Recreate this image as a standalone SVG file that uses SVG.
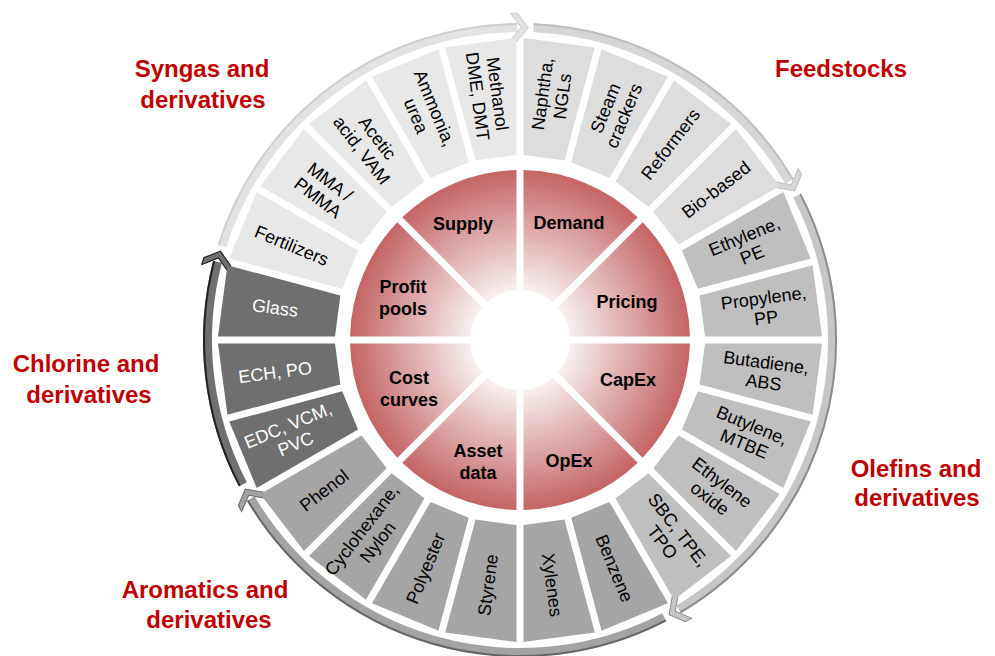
<svg xmlns="http://www.w3.org/2000/svg" xmlns:xlink="http://www.w3.org/1999/xlink" width="995" height="656" viewBox="0 0 995 656">
<defs>
<radialGradient id="rg" gradientUnits="userSpaceOnUse" cx="520" cy="340" r="170">
<stop offset="0" stop-color="#ffffff"/>
<stop offset="0.3" stop-color="#f7efef"/>
<stop offset="1" stop-color="#c46464"/>
</radialGradient>
<path id="seg" d="M484.05,40.13 L555.95,40.13 L540.68,156.12 L499.32,156.12 Z"/>
<path id="wedge" d="M458.19,181.64 A170,170 0 0 1 581.81,181.64 L535.85,292.58 A50,50 0 0 0 504.15,292.58 Z"/>
<polygon id="chev" points="-18,-14 -11,-14 0,0 -11,14 -18,14 -7,0"/>
</defs>
<style>
text{font-family:"Liberation Sans",Arial,sans-serif;}
.t{font-size:18px;fill:#000;text-anchor:middle;}
.tw{font-size:18px;fill:#fff;text-anchor:middle;}
.in{font-size:18px;font-weight:bold;fill:#000;text-anchor:middle;}
.cat{font-size:24px;font-weight:bold;fill:#c00000;text-anchor:middle;}
.feed{fill:#dddddd;}
.ole{fill:#bfbfbf;}
.aro{fill:#a5a5a5;}
.chl{fill:#6f6f6f;}
.syn{fill:#e8e8e8;}
.wd{fill:url(#rg);}
.band{fill:none;}
</style>
<rect width="995" height="656" fill="#ffffff"/>

<g id="connectors">
<g id="arrow-feedstocks">
<path class="band" d="M533.63,27.80 A312.5,312.5 0 0 1 789.26,181.39" stroke="#d6d6d6" stroke-width="9"/>
<path class="band" d="M533.63,24.3 A316,316 0 0 1 793,179.6" stroke="#bdbdbd" stroke-width="2"/>
<use href="#chev" transform="translate(794.63 190.89) rotate(61.5)" fill="#d6d6d6" stroke="#bdbdbd" stroke-width="1"/>
</g>
<g id="arrow-olefins">
<path class="band" d="M797.19,195.70 A312.5,312.5 0 0 1 678.61,609.26" stroke="#c6c6c6" stroke-width="9"/>
<path class="band" d="M800.3,194.1 A316,316 0 0 1 680.4,612.3" stroke="#8c8c8c" stroke-width="2"/>
<use href="#chev" transform="translate(669.11 614.63) rotate(151.5)" fill="#c6c6c6" stroke="#8c8c8c" stroke-width="1"/>
</g>
<g id="arrow-aromatics">
<path class="band" d="M664.30,617.19 A312.5,312.5 0 0 1 250.74,498.61" stroke="#a3a3a3" stroke-width="9"/>
<path class="band" d="M665.9,620.3 A316,316 0 0 1 247.8,500.4" stroke="#666666" stroke-width="2"/>
<use href="#chev" transform="translate(245.37 489.11) rotate(241.5)" fill="#a3a3a3" stroke="#666666" stroke-width="1"/>
</g>
<g id="arrow-chlorine">
<path class="band" d="M242.81,484.30 A312.5,312.5 0 0 1 217.45,261.76" stroke="#6f6f6f" stroke-width="9"/>
<path class="band" d="M239.7,485.9 A316,316 0 0 1 214.1,260.9" stroke="#222222" stroke-width="2"/>
<use href="#chev" transform="translate(220.37 251.24) rotate(286.5)" fill="#6f6f6f" stroke="#222222" stroke-width="1.2"/>
</g>
<g id="arrow-syngas">
<path class="band" d="M221.96,246.03 A312.5,312.5 0 0 1 517.27,27.51" stroke="#e3e3e3" stroke-width="9"/>
<path class="band" d="M218.6,245 A316,316 0 0 1 517.2,24" stroke="#d0d0d0" stroke-width="2"/>
<use href="#chev" transform="translate(528.18 27.61) rotate(1.5)" fill="#e3e3e3" stroke="#d0d0d0" stroke-width="1"/>
</g>
</g>

<g id="inner-ring">
<g id="n-supply"><use href="#wedge" class="wd" transform="rotate(337.5 520 340)"/><text class="in" x="463" y="230">Supply</text></g>
<g id="n-demand"><use href="#wedge" class="wd" transform="rotate(22.5 520 340)"/><text class="in" x="569" y="229">Demand</text></g>
<g id="n-pricing"><use href="#wedge" class="wd" transform="rotate(67.5 520 340)"/><text class="in" x="627" y="308">Pricing</text></g>
<g id="n-capex"><use href="#wedge" class="wd" transform="rotate(112.5 520 340)"/><text class="in" x="628" y="386">CapEx</text></g>
<g id="n-opex"><use href="#wedge" class="wd" transform="rotate(157.5 520 340)"/><text class="in" x="569" y="467">OpEx</text></g>
<g id="n-asset-data"><use href="#wedge" class="wd" transform="rotate(202.5 520 340)"/><text class="in" x="478" y="457"><tspan x="478">Asset</tspan><tspan x="478" dy="22">data</tspan></text></g>
<g id="n-cost-curves"><use href="#wedge" class="wd" transform="rotate(247.5 520 340)"/><text class="in" x="409" y="384"><tspan x="409">Cost</tspan><tspan x="409" dy="22">curves</tspan></text></g>
<g id="n-profit-pools"><use href="#wedge" class="wd" transform="rotate(292.5 520 340)"/><text class="in" x="403" y="293"><tspan x="403">Profit</tspan><tspan x="403" dy="22">pools</tspan></text></g>
</g>

<g id="outer-ring">
<g id="n-naphtha"><use href="#seg" class="feed" transform="rotate(7.5 520 340)"/><text class="t" x="552.24" y="95.11" transform="rotate(-82.5 552.24 95.11)"><tspan x="552.24" dy="-3.7">Naphtha,</tspan><tspan x="552.24" dy="20">NGLs</tspan></text></g>
<g id="n-steam-crackers"><use href="#seg" class="feed" transform="rotate(22.5 520 340)"/><text class="t" x="614.52" y="111.8" transform="rotate(-67.5 614.52 111.8)"><tspan x="614.52" dy="-3.7">Steam</tspan><tspan x="614.52" dy="20">crackers</tspan></text></g>
<g id="n-reformers"><use href="#seg" class="feed" transform="rotate(37.5 520 340)"/><text class="t" x="670.36" y="144.04" transform="rotate(-52.5 670.36 144.04)"><tspan x="670.36" dy="6.3">Reformers</tspan></text></g>
<g id="n-bio-based"><use href="#seg" class="feed" transform="rotate(52.5 520 340)"/><text class="t" x="715.96" y="189.64" transform="rotate(-37.5 715.96 189.64)"><tspan x="715.96" dy="6.3">Bio-based</tspan></text></g>

<g id="n-ethylene-pe"><use href="#seg" class="ole" transform="rotate(67.5 520 340)"/><text class="t" x="748.2" y="245.48" transform="rotate(-22.5 748.2 245.48)"><tspan x="748.2" dy="-3.7">Ethylene,</tspan><tspan x="748.2" dy="20">PE</tspan></text></g>
<g id="n-propylene-pp"><use href="#seg" class="ole" transform="rotate(82.5 520 340)"/><text class="t" x="764.89" y="307.76" transform="rotate(-7.5 764.89 307.76)"><tspan x="764.89" dy="-3.7">Propylene,</tspan><tspan x="764.89" dy="20">PP</tspan></text></g>
<g id="n-butadiene-abs"><use href="#seg" class="ole" transform="rotate(97.5 520 340)"/><text class="t" x="764.89" y="372.24" transform="rotate(7.5 764.89 372.24)"><tspan x="764.89" dy="-3.7">Butadiene,</tspan><tspan x="764.89" dy="20">ABS</tspan></text></g>
<g id="n-butylene-mtbe"><use href="#seg" class="ole" transform="rotate(112.5 520 340)"/><text class="t" x="748.2" y="434.52" transform="rotate(22.5 748.2 434.52)"><tspan x="748.2" dy="-3.7">Butylene,</tspan><tspan x="748.2" dy="20">MTBE</tspan></text></g>
<g id="n-ethylene-oxide"><use href="#seg" class="ole" transform="rotate(127.5 520 340)"/><text class="t" x="715.96" y="490.36" transform="rotate(37.5 715.96 490.36)"><tspan x="715.96" dy="-3.7">Ethylene</tspan><tspan x="715.96" dy="20">oxide</tspan></text></g>
<g id="n-sbc-tpe-tpo"><use href="#seg" class="ole" transform="rotate(142.5 520 340)"/><text class="t" x="670.36" y="535.96" transform="rotate(52.5 670.36 535.96)"><tspan x="670.36" dy="-3.7">SBC, TPE,</tspan><tspan x="670.36" dy="20">TPO</tspan></text></g>

<g id="n-benzene"><use href="#seg" class="aro" transform="rotate(157.5 520 340)"/><text class="t" x="614.52" y="568.2" transform="rotate(67.5 614.52 568.2)"><tspan x="614.52" dy="6.3">Benzene</tspan></text></g>
<g id="n-xylenes"><use href="#seg" class="aro" transform="rotate(172.5 520 340)"/><text class="t" x="552.24" y="584.89" transform="rotate(82.5 552.24 584.89)"><tspan x="552.24" dy="6.3">Xylenes</tspan></text></g>
<g id="n-styrene"><use href="#seg" class="aro" transform="rotate(187.5 520 340)"/><text class="t" x="487.76" y="584.89" transform="rotate(-82.5 487.76 584.89)"><tspan x="487.76" dy="6.3">Styrene</tspan></text></g>
<g id="n-polyester"><use href="#seg" class="aro" transform="rotate(202.5 520 340)"/><text class="t" x="425.48" y="568.2" transform="rotate(-67.5 425.48 568.2)"><tspan x="425.48" dy="6.3">Polyester</tspan></text></g>
<g id="n-cyclohexane-nylon"><use href="#seg" class="aro" transform="rotate(217.5 520 340)"/><text class="t" x="369.64" y="535.96" transform="rotate(-52.5 369.64 535.96)"><tspan x="369.64" dy="-3.7">Cyclohexane,</tspan><tspan x="369.64" dy="20">Nylon</tspan></text></g>
<g id="n-phenol"><use href="#seg" class="aro" transform="rotate(232.5 520 340)"/><text class="t" x="324.04" y="490.36" transform="rotate(-37.5 324.04 490.36)"><tspan x="324.04" dy="6.3">Phenol</tspan></text></g>

<g id="n-edc-vcm-pvc"><use href="#seg" class="chl" transform="rotate(247.5 520 340)"/><text class="tw" x="291.8" y="434.52" transform="rotate(-22.5 291.8 434.52)"><tspan x="291.8" dy="-3.7">EDC, VCM,</tspan><tspan x="291.8" dy="20">PVC</tspan></text></g>
<g id="n-ech-po"><use href="#seg" class="chl" transform="rotate(262.5 520 340)"/><text class="tw" x="275.11" y="372.24" transform="rotate(-7.5 275.11 372.24)"><tspan x="275.11" dy="6.3">ECH, PO</tspan></text></g>
<g id="n-glass"><use href="#seg" class="chl" transform="rotate(277.5 520 340)"/><text class="tw" x="275.11" y="307.76" transform="rotate(7.5 275.11 307.76)"><tspan x="275.11" dy="6.3">Glass</tspan></text></g>

<g id="n-fertilizers"><use href="#seg" class="syn" transform="rotate(292.5 520 340)"/><text class="t" x="291.8" y="245.48" transform="rotate(22.5 291.8 245.48)"><tspan x="291.8" dy="6.3">Fertilizers</tspan></text></g>
<g id="n-mma-pmma"><use href="#seg" class="syn" transform="rotate(307.5 520 340)"/><text class="t" x="324.04" y="189.64" transform="rotate(37.5 324.04 189.64)"><tspan x="324.04" dy="-3.7">MMA /</tspan><tspan x="324.04" dy="20">PMMA</tspan></text></g>
<g id="n-acetic-acid-vam"><use href="#seg" class="syn" transform="rotate(322.5 520 340)"/><text class="t" x="369.64" y="144.04" transform="rotate(52.5 369.64 144.04)"><tspan x="369.64" dy="-3.7">Acetic</tspan><tspan x="369.64" dy="20">acid, VAM</tspan></text></g>
<g id="n-ammonia-urea"><use href="#seg" class="syn" transform="rotate(337.5 520 340)"/><text class="t" x="425.48" y="111.8" transform="rotate(67.5 425.48 111.8)"><tspan x="425.48" dy="-3.7">Ammonia,</tspan><tspan x="425.48" dy="20">urea</tspan></text></g>
<g id="n-methanol"><use href="#seg" class="syn" transform="rotate(352.5 520 340)"/><text class="t" x="487.76" y="95.11" transform="rotate(82.5 487.76 95.11)"><tspan x="487.76" dy="-3.7">Methanol</tspan><tspan x="487.76" dy="20">DME, DMT</tspan></text></g>
</g>

<g id="labels">
<g id="lbl-syngas"><text class="cat" x="202" y="77"><tspan x="202">Syngas and</tspan><tspan x="203" dy="31">derivatives</tspan></text></g>
<g id="lbl-feedstocks"><text class="cat" x="841" y="77">Feedstocks</text></g>
<g id="lbl-chlorine"><text class="cat" x="86" y="372"><tspan x="86">Chlorine and</tspan><tspan x="89" dy="31">derivatives</tspan></text></g>
<g id="lbl-olefins"><text class="cat" x="916" y="477"><tspan x="916">Olefins and</tspan><tspan x="917" dy="29">derivatives</tspan></text></g>
<g id="lbl-aromatics"><text class="cat" x="205" y="598"><tspan x="205">Aromatics and</tspan><tspan x="209" dy="30">derivatives</tspan></text></g>
</g>
</svg>
